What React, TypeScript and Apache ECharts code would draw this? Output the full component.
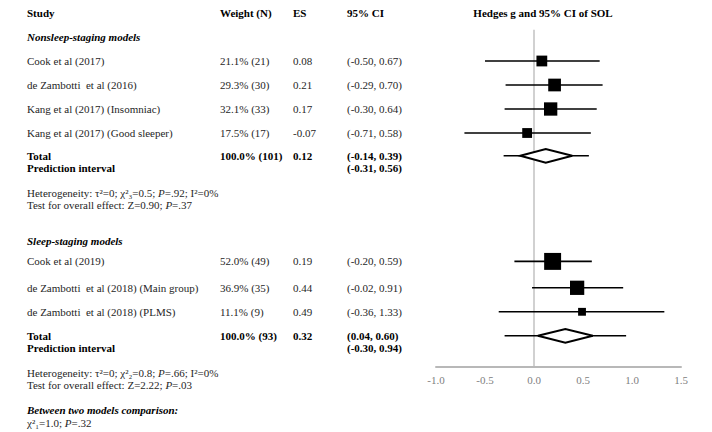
import React, { useEffect, useRef } from 'react';
import * as echarts from 'echarts';

const FAMILY = "'Liberation Serif', 'Times New Roman', serif";

// ---------- data ----------
const headers = ['Study', 'Weight (N)', 'ES', '95% CI'];
const plotTitle = 'Hedges g and 95% CI of SOL';

const group1Label = 'Nonsleep-staging models';
const group1Studies = ['Cook et al (2017)', 'de Zambotti  et al (2016)', 'Kang et al (2017) (Insomniac)', 'Kang et al (2017) (Good sleeper)'];
const group1Weight = [21.1, 29.3, 32.1, 17.5];
const group1N = [21, 30, 33, 17];
const group1ES = [0.08, 0.21, 0.17, -0.07];
const group1Lo = [-0.5, -0.29, -0.3, -0.71];
const group1Hi = [0.67, 0.7, 0.64, 0.58];
const group1Total = { weight: 100.0, n: 101, es: 0.12, lo: -0.14, hi: 0.39, piLo: -0.31, piHi: 0.56 };
const group1Stats = ['Heterogeneity: τ²=0; χ²₃=0.5; {it|P}=.92; I²=0%', 'Test for overall effect: Z=0.90; {it|P}=.37'];

const group2Label = 'Sleep-staging models';
const group2Studies = ['Cook et al (2019)', 'de Zambotti  et al (2018) (Main group)', 'de Zambotti  et al (2018) (PLMS)'];
const group2Weight = [52.0, 36.9, 11.1];
const group2N = [49, 35, 9];
const group2ES = [0.19, 0.44, 0.49];
const group2Lo = [-0.2, -0.02, -0.36];
const group2Hi = [0.59, 0.91, 1.33];
const group2Total = { weight: 100.0, n: 93, es: 0.32, lo: 0.04, hi: 0.6, piLo: -0.3, piHi: 0.94 };
const group2Stats = ['Heterogeneity: τ²=0; χ²₂=0.8; {it|P}=.66; I²=0%', 'Test for overall effect: Z=2.22; {it|P}=.03'];

const comparisonLabel = 'Between two models comparison:';
const comparisonStat = 'χ²₁=1.0; {it|P}=.32';

const xMin = -1.0;
const xMax = 1.5;
const xInterval = 0.5;
const refValue = 0;

// ---------- layout (rows in row units) ----------
const ROW_TOP = 13;
const ROW_PX = 24;
const AXIS_ROW = 14.75;
const REF_TOP_ROW = 0.7;
const rowY = (r: number) => ROW_TOP + r * ROW_PX;

const group1Rows = [2, 3, 4, 5];
const group1TotalRow = 5.95;
const group1StatRow = 7.5;
const group1LabelRow = 1;
const group2LabelRow = 9.5;
const group2Rows = [10.35, 11.45, 12.45];
const group2TotalRow = 13.45;
const group2StatRow = 15.0;
const comparisonRow = 16.55;

const COL_STUDY = 27;
const COL_WEIGHT = 220;
const COL_ES = 293;
const COL_CI = 347;
const TITLE_X = 543;
const SQUARE_SCALE = 2.35;

const REG = '#262626';
const GRAY_LINE = '#b8b8b8';
const FS = 11;

function fontOf(bold: boolean, italic: boolean, size = FS) {
  return `${italic ? 'italic ' : ''}${bold ? 'bold ' : ''}${size}px ${FAMILY}`;
}

function txt(x: number, r: number, text: string, o: any = {}) {
  const bold = !!o.bold;
  const italic = !!o.italic;
  const style: any = {
    text,
    fill: bold ? '#000' : REG,
    font: fontOf(bold, italic),
    verticalAlign: 'middle',
    align: o.align || 'left',
  };
  if (text.indexOf('{') >= 0) {
    style.rich = { it: { font: fontOf(false, true), fill: REG } };
  }
  return { type: 'text', x, y: rowY(r), silent: true, z: 0, style };
}

const fmtW = (w: number, n: number) => `${w.toFixed(1)}% (${n})`;
const fmtCI = (lo: number, hi: number) => `(${lo.toFixed(2)}, ${hi.toFixed(2)})`;

function buildText() {
  const g: any[] = [];
  g.push(txt(COL_STUDY, 0, headers[0], { bold: true }));
  g.push(txt(COL_WEIGHT, 0, headers[1], { bold: true }));
  g.push(txt(COL_ES, 0, headers[2], { bold: true }));
  g.push(txt(COL_CI, 0, headers[3], { bold: true }));
  g.push(txt(TITLE_X, 0, plotTitle, { bold: true, align: 'center' }));

  const groups = [
    { label: group1Label, labelRow: group1LabelRow, studies: group1Studies, w: group1Weight, n: group1N, es: group1ES, lo: group1Lo, hi: group1Hi, rows: group1Rows, total: group1Total, totalRow: group1TotalRow, stats: group1Stats, statRow: group1StatRow },
    { label: group2Label, labelRow: group2LabelRow, studies: group2Studies, w: group2Weight, n: group2N, es: group2ES, lo: group2Lo, hi: group2Hi, rows: group2Rows, total: group2Total, totalRow: group2TotalRow, stats: group2Stats, statRow: group2StatRow },
  ];
  groups.forEach((gr) => {
    g.push(txt(COL_STUDY, gr.labelRow, gr.label, { bold: true, italic: true }));
    gr.studies.forEach((s, i) => {
      const r = gr.rows[i];
      g.push(txt(COL_STUDY, r, s));
      g.push(txt(COL_WEIGHT, r, fmtW(gr.w[i], gr.n[i])));
      g.push(txt(COL_ES, r, gr.es[i].toFixed(2)));
      g.push(txt(COL_CI, r, fmtCI(gr.lo[i], gr.hi[i])));
    });
    const t = gr.total;
    g.push(txt(COL_STUDY, gr.totalRow, 'Total', { bold: true }));
    g.push(txt(COL_WEIGHT, gr.totalRow, fmtW(t.weight, t.n), { bold: true }));
    g.push(txt(COL_ES, gr.totalRow, t.es.toFixed(2), { bold: true }));
    g.push(txt(COL_CI, gr.totalRow, fmtCI(t.lo, t.hi), { bold: true }));
    g.push(txt(COL_STUDY, gr.totalRow + 0.5, 'Prediction interval', { bold: true }));
    g.push(txt(COL_CI, gr.totalRow + 0.5, fmtCI(t.piLo, t.piHi), { bold: true }));
    g.push(txt(COL_STUDY, gr.statRow, gr.stats[0]));
    g.push(txt(COL_STUDY, gr.statRow + 0.5, gr.stats[1]));
  });
  g.push(txt(COL_STUDY, comparisonRow, comparisonLabel, { bold: true, italic: true }));
  g.push(txt(COL_STUDY, comparisonRow + 0.55, comparisonStat));
  return g;
}

export default function App() {
  const ref = useRef<HTMLDivElement>(null);
  useEffect(() => {
    document.body.style.margin = '0';
    const chart = echarts.init(ref.current!, null, { renderer: 'svg' });

    const studyData = [
      ...group1Studies.map((_, i) => [group1Rows[i], group1ES[i], group1Lo[i], group1Hi[i], group1Weight[i]]),
      ...group2Studies.map((_, i) => [group2Rows[i], group2ES[i], group2Lo[i], group2Hi[i], group2Weight[i]]),
    ];
    const pooledData = [
      [group1TotalRow, group1Total.es, group1Total.lo, group1Total.hi, group1Total.piLo, group1Total.piHi],
      [group2TotalRow, group2Total.es, group2Total.lo, group2Total.hi, group2Total.piLo, group2Total.piHi],
    ];
    const baselineData = [[AXIS_ROW, xMin, xMax]];

    chart.setOption({
      animation: false,
      backgroundColor: '#fff',
      grid: { left: 436, right: 31, top: 0, bottom: 432 - rowY(AXIS_ROW) },
      xAxis: {
        type: 'value',
        position: 'bottom',
        min: xMin,
        max: xMax,
        interval: xInterval,
        axisLine: { show: true, onZero: false, lineStyle: { color: GRAY_LINE, width: 2 } },
        axisTick: { show: false },
        splitLine: { show: false },
        axisLabel: {
          color: '#808080',
          fontFamily: FAMILY,
          fontSize: FS,
          margin: 7,
          formatter: (v: number) => v.toFixed(1),
        },
      },
      yAxis: {
        type: 'value',
        inverse: true,
        min: -ROW_TOP / ROW_PX,
        max: AXIS_ROW,
        show: false,
      },
      series: [
        {
          type: 'line',
          data: [[refValue, REF_TOP_ROW], [refValue, AXIS_ROW]],
          symbol: 'none',
          lineStyle: { color: GRAY_LINE, width: 1.3 },
          z: 1,
          silent: true,
        },
        {
          type: 'custom',
          z: 6,
          silent: true,
          clip: false,
          encode: { x: [1, 2], y: 0 },
          data: baselineData,
          renderItem: (params: any, api: any) => {
            const r = api.value(0);
            const a = api.coord([api.value(1), r]);
            const b = api.coord([api.value(2), r]);
            return {
              type: 'rect',
              shape: { x: a[0], y: a[1] - 1, width: b[0] - a[0], height: 2 },
              style: { fill: GRAY_LINE },
            };
          },
        },
        {
          type: 'custom',
          z: 3,
          silent: true,
          encode: { x: [1, 2, 3], y: 0 },
          data: studyData,
          renderItem: (params: any, api: any) => {
            const r = api.value(0);
            const es = api.value(1);
            const lo = api.value(2);
            const hi = api.value(3);
            const w = api.value(4);
            const pLo = api.coord([lo, r]);
            const pHi = api.coord([hi, r]);
            const pEs = api.coord([es, r]);
            const s = SQUARE_SCALE * Math.sqrt(w);
            return {
              type: 'group',
              children: [
                { type: 'line', shape: { x1: pLo[0], y1: pLo[1], x2: pHi[0], y2: pHi[1] }, style: { stroke: '#000', lineWidth: 1.6 } },
                { type: 'rect', shape: { x: pEs[0] - s / 2, y: pEs[1] - s / 2, width: s, height: s }, style: { fill: '#000' } },
              ],
            };
          },
        },
        {
          type: 'custom',
          z: 3,
          silent: true,
          encode: { x: [1, 2, 3, 4, 5], y: 0 },
          data: pooledData,
          renderItem: (params: any, api: any) => {
            const r = api.value(0);
            const pEs = api.coord([api.value(1), r]);
            const pLo = api.coord([api.value(2), r]);
            const pHi = api.coord([api.value(3), r]);
            const qLo = api.coord([api.value(4), r]);
            const qHi = api.coord([api.value(5), r]);
            const h = 6.8;
            return {
              type: 'group',
              children: [
                { type: 'line', shape: { x1: qLo[0], y1: qLo[1], x2: qHi[0], y2: qHi[1] }, style: { stroke: '#000', lineWidth: 1.6 } },
                {
                  type: 'polygon',
                  shape: { points: [[pLo[0], pLo[1]], [pEs[0], pEs[1] - h], [pHi[0], pHi[1]], [pEs[0], pEs[1] + h]] },
                  style: { fill: '#fff', stroke: '#000', lineWidth: 2 },
                },
              ],
            };
          },
        },
      ],
      graphic: buildText(),
    });
    return () => chart.dispose();
  }, []);
  return <div ref={ref} style={{ position: 'fixed', left: 0, top: 0, width: 712, height: 432 }} />;
}
